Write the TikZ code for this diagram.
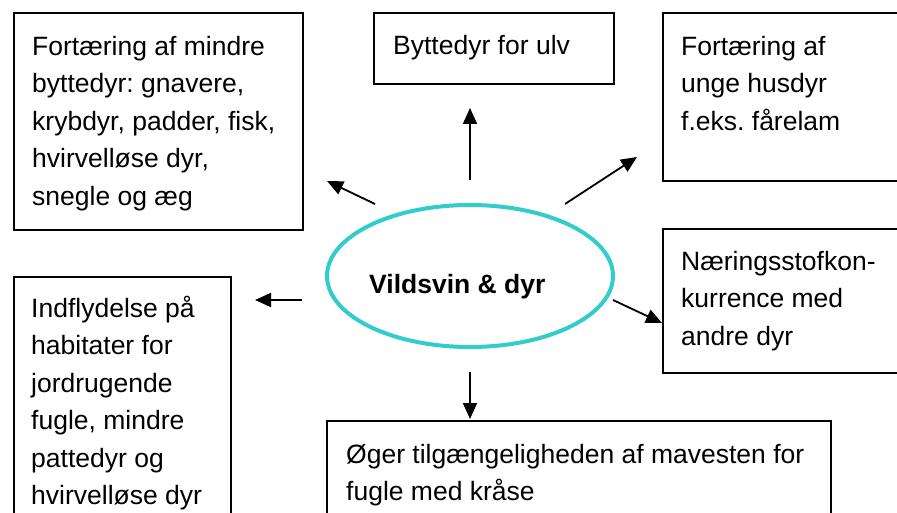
\documentclass[tikz,border=0pt]{standalone}
\usepackage{fontspec}
\setmainfont{Liberation Sans}
\usetikzlibrary{arrows.meta,shapes.geometric}
\definecolor{ring}{RGB}{51,204,204}
\newcommand\tstrut{\rule{0pt}{24pt}}
\frenchspacing
\begin{document}
\frenchspacing
\begin{tikzpicture}[x=1pt,y=-1pt,
  box/.style={draw=black,line width=1.8pt,rectangle,inner sep=0pt,anchor=north west},
  txt/.style={anchor=north west,inner sep=0pt,align=left,font=\fontsize{26.5}{37.5}\selectfont\frenchspacing},
  arr/.style={line width=1.8pt,-{Triangle[length=16pt,width=14pt]}}]
\useasboundingbox (0,0) rectangle (897,513);
\clip (0,0) rectangle (897,513);
% boxes
\node[box,minimum width=289pt,minimum height=217pt] (b1) at (13,12) {};
\node[box,minimum width=240pt,minimum height=71pt] (b2) at (373,12) {};
\node[box,minimum width=260pt,minimum height=168pt] (b3) at (662,12) {};
\node[box,minimum width=260pt,minimum height=144pt] (b4) at (662,228) {};
\node[box,minimum width=217pt,minimum height=260pt] (b5) at (13,276) {};
\node[box,minimum width=504pt,minimum height=120pt] (b6) at (326,420) {};
% texts
\node[txt] (t1) at (32,31) {\tstrut Fortæring af mindre\\byttedyr: gnavere,\\krybdyr, padder, fisk,\\hvirvelløse dyr,\\snegle og æg};
\node[txt] (t2) at (393,30) {\tstrut Byttedyr for ulv};
\node[txt] (t3) at (681,31) {\tstrut Fortæring af\\unge husdyr\\f.eks. fårelam};
\node[txt] (t4) at (681,246) {\tstrut Næringsstofkon-\\kurrence med\\andre dyr};
\node[txt] (t5) at (31,293) {\tstrut Indflydelse på\\habitater for\\jordrugende\\fugle, mindre\\pattedyr og\\hvirvelløse dyr};
\node[txt] (t6) at (346,439) {\tstrut Øger tilgængeligheden af mavesten for\\fugle med kråse};
% centre
\node[ellipse,draw=ring,line width=4pt,minimum width=286pt,minimum height=142pt,inner sep=0pt] (c) at (470,276) {};
\node[anchor=base west,inner sep=0pt,font=\fontsize{26.5}{32}\selectfont\bfseries] (ct) at (369,293) {Vildsvin \& dyr};
% arrow endpoints
\coordinate (s1) at (375,204); \coordinate (e1) at (327,181);
\coordinate (s2) at (470,180); \coordinate (e2) at (470,108);
\coordinate (s3) at (565,204); \coordinate (e3) at (637,157);
\coordinate (s4) at (613,300); \coordinate (e4) at (662,323);
\coordinate (s5) at (470,372); \coordinate (e5) at (470,419);
\coordinate (s6) at (302,300); \coordinate (e6) at (255,300);
\draw[arr] (s1) -- (e1);
\draw[arr] (s2) -- (e2);
\draw[arr] (s3) -- (e3);
\draw[arr] (s4) -- (e4);
\draw[arr] (s5) -- (e5);
\draw[arr] (s6) -- (e6);
\end{tikzpicture}
\end{document}
